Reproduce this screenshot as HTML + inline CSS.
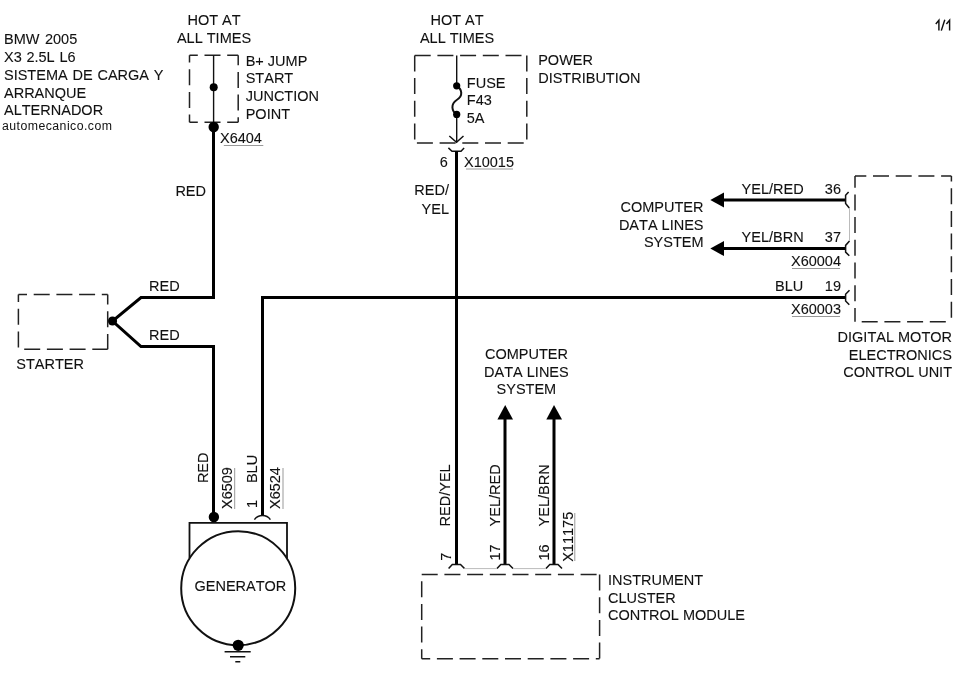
<!DOCTYPE html>
<html><head><meta charset="utf-8">
<style>
html,body{margin:0;padding:0;background:#fff;width:973px;height:673px;overflow:hidden}
svg{display:block;filter:grayscale(100%)}
text{font-family:"Liberation Sans",sans-serif;font-size:14.5px;fill:#111;stroke:#111;stroke-width:0.1;font-kerning:none;font-feature-settings:"kern" 0}
.w{fill:none;stroke:#000;stroke-width:3;stroke-linejoin:miter;stroke-linecap:butt}
.t{fill:none;stroke:#111;stroke-width:1.4}
.c{fill:none;stroke:#111;stroke-width:1.5}
.d{fill:none;stroke:#222;stroke-width:1.5;stroke-dasharray:16 6.7;stroke-linecap:butt}
.u{fill:none;stroke:#999;stroke-width:1}
.g{fill:none;stroke:#bbb;stroke-width:1}
.r{text-anchor:end}
.m{text-anchor:middle}
</style></head>
<body>
<svg width="973" height="673" viewBox="0 0 973 673">
<!-- title block -->
<text x="4" y="44.3" style="word-spacing:1.5px">BMW 2005</text>
<text x="4" y="62.1" style="word-spacing:0.7px">X3 2.5L L6</text>
<text x="4" y="79.8" style="word-spacing:0.8px">SISTEMA DE CARGA Y</text>
<text x="4" y="97.5">ARRANQUE</text>
<text x="4" y="115.2">ALTERNADOR</text>
<text x="2" y="129.7" style="font-size:12.3px;letter-spacing:0.45px;stroke-width:0">automecanico.com</text>
<path style="fill:none;stroke:#111;stroke-width:1.45" d="M935.8,24L938.9,20.2V30.6M941.3,30.6L944.8,19.8M946.4,24L949.6,20.2V30.6"/>

<!-- HOT AT left -->
<text class="m" x="214" y="24.5">HOT AT</text>
<text class="m" x="214" y="42.5">ALL TIMES</text>
<!-- B+ box -->
<path class="d" style="stroke-dashoffset:7.7" d="M189.5,55.3H238.2"/><path class="d" style="stroke-dashoffset:6.1" d="M238.2,55.3V122.3"/><path class="d" style="stroke-dashoffset:7.7" d="M189.5,122.3H238.2"/><path class="d" style="stroke-dashoffset:8.8" d="M189.5,55.3V122.3"/>
<path class="t" d="M213.6,55.3V127"/>
<circle cx="213.7" cy="87.2" r="4"/>
<circle cx="213.7" cy="127" r="5.2"/>
<text x="245.7" y="65.6">B+ JUMP</text>
<text x="245.7" y="83.4">START</text>
<text x="245.7" y="101.2">JUNCTION</text>
<text x="245.7" y="119">POINT</text>
<text x="220" y="142.5">X6404</text>
<path class="u" d="M223.8,145.5H263.3"/>
<text class="r" x="206" y="195.5">RED</text>

<!-- red wires -->
<path class="w" d="M213.5,127V297.5H141L112.5,321L141,346.5H213.5V517"/>
<circle cx="112.5" cy="321" r="4.6"/>
<text x="149" y="290.9">RED</text>
<text x="149" y="339.8">RED</text>

<!-- starter -->
<path class="d" style="stroke-dashoffset:7.4" d="M18.4,294.5H107.7"/><path class="d" style="stroke-dashoffset:6" d="M107.7,294.5V349.3"/><path class="d" style="stroke-dashoffset:16.9" d="M18.4,349.3H107.7"/><path class="d" style="stroke-dashoffset:8.5" d="M18.4,294.5V349.3"/>
<text x="16.3" y="369.2">STARTER</text>

<!-- blue wire -->
<path class="w" d="M262.5,515.6V297.5H845.5"/>

<!-- generator -->
<circle cx="213.9" cy="517" r="5.2"/>
<path class="c" d="M254.4,519.6Q257.5,515.6 262.5,515.6Q267.5,515.6 270.4,519.6"/>
<path class="c" style="stroke-width:1.8" d="M189.5,558V522.9H287V558"/>
<circle class="c" style="stroke-width:2" cx="238.2" cy="588.2" r="57"/>
<text x="194.5" y="591.1">GENERATOR</text>
<circle cx="238.2" cy="645.3" r="5.6"/>
<path class="c" d="M224.6,651.7H250.7M230,656.7H245.3M235.3,661.7H240.3"/>
<text transform="translate(208.2,483.1) rotate(-90)">RED</text>
<text transform="translate(232,509) rotate(-90)">X6509</text>
<path class="u" d="M234.7,468V509"/>
<text transform="translate(257.2,483.1) rotate(-90)">BLU</text>
<text transform="translate(257.2,508) rotate(-90)">1</text>
<text transform="translate(280.2,509) rotate(-90)">X6524</text>
<path class="u" d="M283,468V509"/>

<!-- HOT AT center -->
<text class="m" x="457" y="24.5">HOT AT</text>
<text class="m" x="457" y="42.5">ALL TIMES</text>
<path class="d" style="stroke-dashoffset:0" d="M414.7,55.4H526.8"/><path class="d" style="stroke-dashoffset:0" d="M526.8,55.4V142.9"/><path class="d" style="stroke-dashoffset:20.5" d="M414.7,142.9H526.8"/><path class="d" style="stroke-dashoffset:0" d="M414.7,55.4V142.9"/>
<path class="t" d="M456.7,55.6V85.8M456.7,114.4V142.2"/>
<path class="c" style="stroke-width:2" d="M456.7,85.8C462,89 463.5,96 456.7,100C450.5,104 451.5,111 456.7,114.4"/>
<circle cx="456.7" cy="85.8" r="3.6"/>
<circle cx="456.7" cy="114.4" r="3.6"/>
<text x="466.8" y="87.5">FUSE</text>
<text x="466.8" y="104.9">F43</text>
<text x="466.8" y="123.2">5A</text>
<text x="538.2" y="65">POWER</text>
<text x="538.2" y="82.6">DISTRIBUTION</text>
<path class="c" d="M449.3,136L456.5,142.2L463.5,136"/>
<path class="c" d="M448.4,147.9L452,151.2H461L464.1,147.9"/>
<text x="439.7" y="166.7">6</text>
<text x="464" y="166.7">X10015</text>
<path class="u" d="M466,169H513"/>
<text class="r" x="449" y="195.4">RED/</text>
<text class="r" x="449" y="213.6">YEL</text>
<path class="w" d="M456.5,151.2V564.5"/>

<!-- right DME -->
<path class="w" d="M724,200H845.5M724,248.5H845.5"/>
<polygon points="710.3,200 724,192.6 724,207.6"/>
<polygon points="710.3,248.6 724,241.1 724,256.1"/>
<text x="741.6" y="193.6">YEL/RED</text>
<text x="741.6" y="241.9">YEL/BRN</text>
<text class="r" x="703.5" y="212.1">COMPUTER</text>
<text class="r" x="703.5" y="229.6">DATA LINES</text>
<text class="r" x="703.5" y="247.1">SYSTEM</text>
<text class="r" x="841" y="194.1">36</text>
<text class="r" x="841" y="242.3">37</text>
<text class="r" x="841" y="290.6">19</text>
<text x="775" y="290.6">BLU</text>
<text x="791" y="265.5">X60004</text>
<path class="u" d="M792,268.5H840"/>
<text x="791" y="313.5">X60003</text>
<path class="u" d="M792,316.5H840"/>
<path class="c" d="M848.6,191.9L845.6,195.3V203.4L849.3,207.9"/>
<path class="c" d="M849.5,241L845.6,245.4V252.1L849.3,255.8"/>
<path class="c" d="M849.5,290.3L845.6,294.3V301L849.3,304.8"/>
<path class="g" d="M849.5,207.9V241"/>
<path class="d" style="stroke-dashoffset:4.7" d="M855,176.1H951.4"/><path class="d" style="stroke-dashoffset:10.6" d="M951.4,176.1V321.8"/><path class="d" style="stroke-dashoffset:16" d="M855,321.8H951.4"/><path class="d" style="stroke-dashoffset:4.4" d="M855,176.1V321.8"/>
<text class="r" x="952" y="342.3">DIGITAL MOTOR</text>
<text class="r" x="952" y="359.9">ELECTRONICS</text>
<text class="r" x="952" y="377">CONTROL UNIT</text>

<!-- instrument cluster -->
<text class="m" x="526.4" y="359.1">COMPUTER</text>
<text class="m" x="526.4" y="376.5">DATA LINES</text>
<text class="m" x="526.4" y="393.9">SYSTEM</text>
<path class="w" d="M505,419V564.5M554,419V564.5"/>
<polygon points="505.2,405 497.4,419.5 513,419.5"/>
<polygon points="554,405 546.3,419.5 562,419.5"/>
<text transform="translate(450.2,526.4) rotate(-90)">RED/YEL</text>
<text transform="translate(499.5,526.4) rotate(-90)">YEL/RED</text>
<text transform="translate(548.8,526.4) rotate(-90)">YEL/BRN</text>
<text transform="translate(450.8,560.8) rotate(-90)">7</text>
<text transform="translate(499.7,560.6) rotate(-90)">17</text>
<text transform="translate(548.6,560.6) rotate(-90)">16</text>
<text transform="translate(572.8,561.8) rotate(-90)">X11175</text>
<path class="u" d="M574.8,513V561"/>
<path class="c" d="M448.6,568.6L452.3,564.5H460.5L464.5,568.6"/>
<path class="c" d="M497,568.6L500.8,564.5H509L513,568.6"/>
<path class="c" d="M546,568.6L549.8,564.5H558L562,568.6"/>
<path class="g" d="M464.5,568.6H497M513,568.6H546"/>
<path class="d" style="stroke-dashoffset:0" d="M421.7,574.5H599.6"/><path class="d" style="stroke-dashoffset:0" d="M599.6,574.5V658.7"/><path class="d" style="stroke-dashoffset:7.5" d="M421.7,658.7H599.6"/><path class="d" style="stroke-dashoffset:16" d="M421.7,574.5V658.7"/>
<text x="608" y="585.1">INSTRUMENT</text>
<text x="608" y="602.5">CLUSTER</text>
<text x="608" y="620.1">CONTROL MODULE</text>
</svg>
</body></html>
